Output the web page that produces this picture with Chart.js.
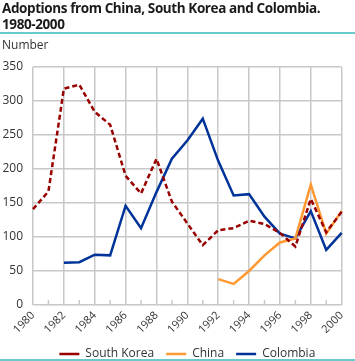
<!DOCTYPE html>
<html>
<head>
<meta charset="utf-8">
<script src="https://cdn.jsdelivr.net/npm/chart.js@4"></script>
<style>
  html,body{margin:0;padding:0;background:#fff;}
  #wrap{position:relative;width:355px;height:361px;overflow:hidden;font-family:"Open Sans",sans-serif;}
  #title{position:absolute;left:2px;top:0px;font-weight:bold;font-size:13.5px;letter-spacing:-0.4px;line-height:16px;color:#1a1a1a;white-space:nowrap;}
  #rule1{position:absolute;left:0;top:32px;width:355px;height:2px;background:#66cccc;}
  #rule2{position:absolute;left:0;top:359px;width:355px;height:2px;background:#66cccc;}
  #unit{position:absolute;left:2px;top:36px;font-size:12px;color:#333;}
  #c{position:absolute;left:0;top:0;}
</style>
</head>
<body>
<div id="wrap">
  <canvas id="c" width="355" height="370"></canvas>
  <div id="title">Adoptions from China, South Korea and Colombia.<br>1980-2000</div>
  <div id="rule1"></div>
  <div id="unit">Number</div>
  <div id="rule2"></div>
</div>
<script>
const years = ['1980','1981','1982','1983','1984','1985','1986','1987','1988','1989','1990',
               '1991','1992','1993','1994','1995','1996','1997','1998','1999','2000'];
const southKorea = [141,167,318,324,284,265,190,164,215,152,120,88,110,113,124,119,106,86,156,107,137];
const china      = [null,null,null,null,null,null,null,null,null,null,null,null,38,31,50,73,92,98,177,105,138];
const colombia   = [null,null,62,63,74,73,146,113,166,215,242,274,212,161,163,130,105,98,138,81,106];
const yTicks = [0,50,100,150,200,250,300,350];

const gridColor = '#c8c8c8';

const minorTicks = {
  id:'minorTicks',
  beforeDatasetsDraw(chart){
    const xs = chart.scales.x, ys = chart.scales.y, ctx = chart.ctx;
    const bottom = ys.getPixelForValue(0);
    ctx.save();
    ctx.strokeStyle = gridColor; ctx.lineWidth = 1.5;
    years.forEach((y,i)=>{
      if (i%2===1){
        const px = xs.getPixelForValue(i);
        ctx.beginPath(); ctx.moveTo(px,bottom); ctx.lineTo(px,bottom-5); ctx.stroke();
      }
    });
    ctx.restore();
  }
};

new Chart(document.getElementById('c'), {
  type:'line',
  data:{
    labels: years,
    datasets:[
      {label:'South Korea', data:southKorea, borderColor:'#990000', backgroundColor:'#990000', borderWidth:2.5, borderDash:[5,3], pointRadius:0, tension:0, pointStyle:'line'},
      {label:'China', data:china, borderColor:'#ff9933', backgroundColor:'#ff9933', borderWidth:2.5, pointRadius:0, tension:0, pointStyle:'line'},
      {label:'Colombia', data:colombia, borderColor:'#003399', backgroundColor:'#003399', borderWidth:2.5, pointRadius:0, tension:0, pointStyle:'line'}
    ]
  },
  options:{
    responsive:false,
    animation:false,
    layout:{padding:{top:67,left:0,right:8,bottom:0}},
    plugins:{
      legend:{
        position:'bottom',
        fullSize:false,
        labels:{usePointStyle:true, pointStyle:'line', pointStyleWidth:20, boxWidth:20, boxHeight:12, padding:12,
                color:'#333', font:{family:'"Open Sans", sans-serif', size:12, lineHeight:1}}
      },
      tooltip:{enabled:false}
    },
    scales:{
      x:{
        type:'category',
        offset:false,
        grid:{color:(c)=> (c.index%2===0 ? gridColor : 'rgba(0,0,0,0)'), lineWidth:1.5, drawTicks:false},
        border:{display:false},
        ticks:{autoSkip:false, maxRotation:45, minRotation:45, padding:4, color:'#333',
               font:{family:'"Open Sans", sans-serif', size:11},
               callback:function(v,i){ return i%2===0 ? years[i] : ''; }},
        afterFit:(s)=>{ s.height = 31; }
      },
      y:{
        min:0, max:350,
        afterBuildTicks:(s)=>{ s.ticks = yTicks.map(v=>({value:v})); },
        grid:{color:gridColor, lineWidth:1.5, drawTicks:false},
        border:{display:false},
        ticks:{padding:10, color:'#333', font:{family:'"Open Sans", sans-serif', size:12}},
        afterFit:(s)=>{ s.width = 33; }
      }
    }
  },
  plugins:[minorTicks]
});
</script>
</body>
</html>
